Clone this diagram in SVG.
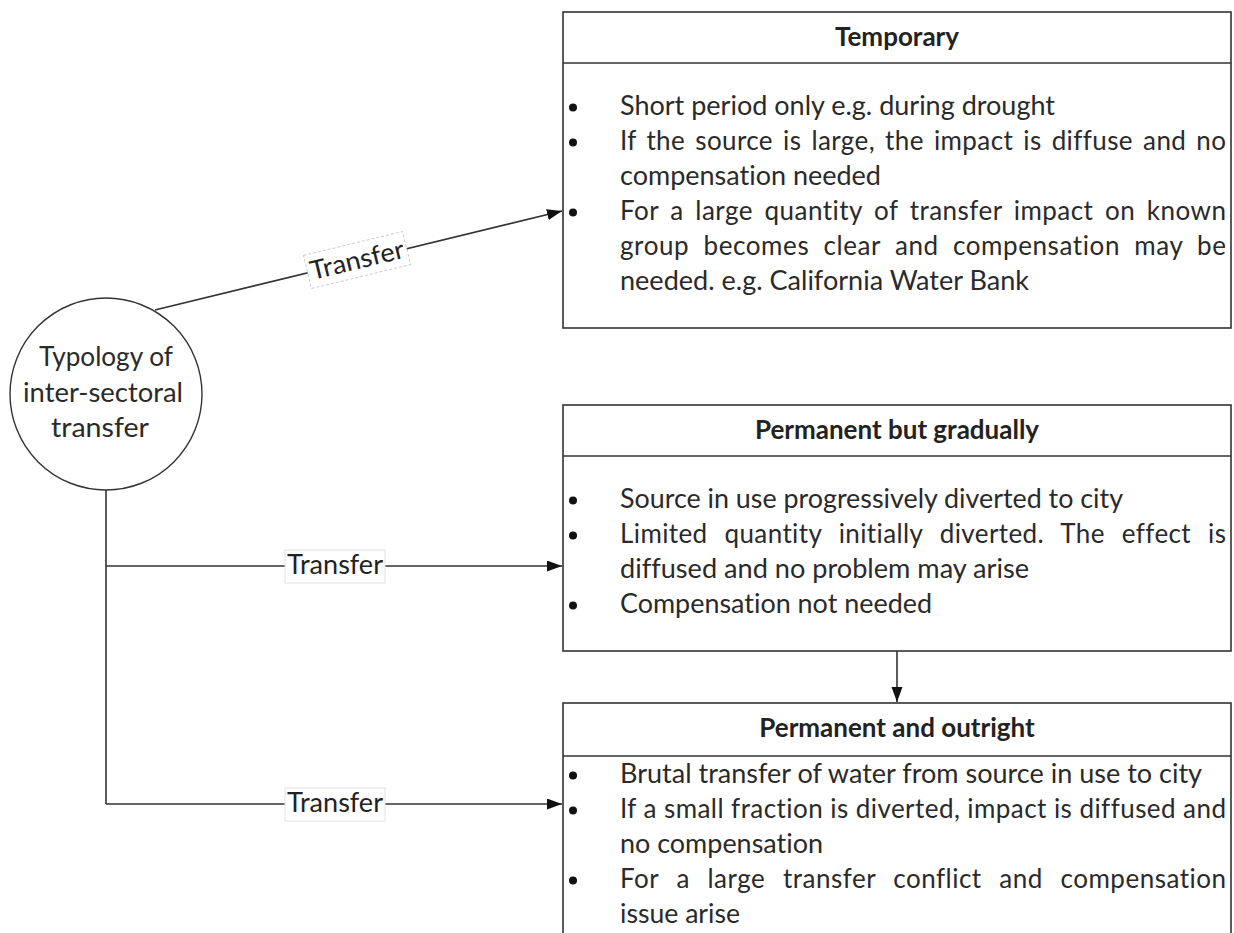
<svg xmlns="http://www.w3.org/2000/svg" width="1234" height="933" viewBox="0 0 1234 933">
<style>
text{font-variant-ligatures:none;font-feature-settings:"liga" 0,"clig" 0}
.box{fill:#fff;stroke:#333;stroke-width:1.6}
.div{stroke:#333;stroke-width:1.6}
.ttl{font-family:Lato,"Open Sans",sans-serif;font-weight:bold;font-size:26px;fill:#222;text-anchor:middle}
.bd{font-family:Lato,"Open Sans",sans-serif;font-size:26px;fill:#2a2a2a}
.ct{font-family:Lato,"Open Sans",sans-serif;font-size:26px;fill:#2a2a2a;text-anchor:middle}
.bul{fill:#111}
.con{fill:none;stroke:#333;stroke-width:1.6}
.lbl{font-family:Lato,"Open Sans",sans-serif;font-size:26px;fill:#222;text-anchor:middle}
.lblbox{fill:#fff;stroke:#e2e2e2;stroke-width:1}
</style>
<defs>
<marker id="ah" markerUnits="userSpaceOnUse" markerWidth="17" markerHeight="12" refX="15" refY="5.5" orient="auto">
<path d="M0,0 L15,5.5 L0,11 z" fill="#111"/>
</marker>
</defs>
<rect width="1234" height="933" fill="#fff"/>

<g id="connectors">
<path class="con" d="M155,310 L562,211" marker-end="url(#ah)"/>
<path class="con" d="M106,490 L106,804"/>
<path class="con" d="M106,566 L562,566" marker-end="url(#ah)"/>
<path class="con" d="M106,804 L562,804" marker-end="url(#ah)"/>
<path class="con" d="M897,651 L897,702" marker-end="url(#ah)"/>
<g transform="translate(357,260) rotate(-13.6)">
<rect x="-51" y="-17" width="102" height="34" fill="#fff" stroke="#ccc" stroke-width="1" stroke-dasharray="3,2"/>
<text class="lbl" x="0" y="9" textLength="96" lengthAdjust="spacingAndGlyphs">Transfer</text>
</g>
<rect class="lblbox" x="285" y="550" width="100" height="33"/>
<text class="lbl" x="335" y="574" textLength="96" lengthAdjust="spacingAndGlyphs">Transfer</text>
<rect class="lblbox" x="285" y="788" width="100" height="33"/>
<text class="lbl" x="335" y="812" textLength="96" lengthAdjust="spacingAndGlyphs">Transfer</text>
</g>

<g id="typology">
<circle cx="106" cy="394" r="96" fill="#fff" stroke="#333" stroke-width="1.4"/>
<text class="ct" x="106" y="366" textLength="134" lengthAdjust="spacingAndGlyphs">Typology of</text>
<text class="ct" x="103" y="402" textLength="160" lengthAdjust="spacingAndGlyphs">inter-sectoral</text>
<text class="ct" x="100" y="437" textLength="98" lengthAdjust="spacingAndGlyphs">transfer</text>
</g>

<g id="temporary">
<rect class="box" x="563" y="12" width="668" height="316"/>
<line class="div" x1="563" y1="63" x2="1231" y2="63"/>
<text class="ttl" x="897" y="46">Temporary</text>
<circle class="bul" cx="573" cy="107.5" r="4"/>
<circle class="bul" cx="573" cy="142.5" r="4"/>
<circle class="bul" cx="573" cy="212.5" r="4"/>
<text class="bd" x="620" y="115" textLength="435" lengthAdjust="spacingAndGlyphs">Short period only e.g. during drought</text>
<text class="bd" x="620" y="150" word-spacing="3" textLength="606" lengthAdjust="spacing">If the source is large, the impact is diffuse and no</text>
<text class="bd" x="620" y="185" textLength="261" lengthAdjust="spacingAndGlyphs">compensation needed</text>
<text class="bd" x="620" y="220" word-spacing="4.5" textLength="606" lengthAdjust="spacing">For a large quantity of transfer impact on known</text>
<text class="bd" x="620" y="255" word-spacing="7" textLength="606" lengthAdjust="spacing">group becomes clear and compensation may be</text>
<text class="bd" x="620" y="290" textLength="409" lengthAdjust="spacingAndGlyphs">needed. e.g. California Water Bank</text>
</g>

<g id="gradual">
<rect class="box" x="563" y="405" width="668" height="246"/>
<line class="div" x1="563" y1="456" x2="1231" y2="456"/>
<text class="ttl" x="897" y="439">Permanent but gradually</text>
<circle class="bul" cx="573" cy="500.5" r="4"/>
<circle class="bul" cx="573" cy="535.5" r="4"/>
<circle class="bul" cx="573" cy="605.5" r="4"/>
<text class="bd" x="620" y="508" textLength="503" lengthAdjust="spacingAndGlyphs">Source in use progressively diverted to city</text>
<text class="bd" x="620" y="543" word-spacing="10" textLength="606" lengthAdjust="spacing">Limited quantity initially diverted. The effect is</text>
<text class="bd" x="620" y="578" textLength="409" lengthAdjust="spacingAndGlyphs">diffused and no problem may arise</text>
<text class="bd" x="620" y="613" textLength="312" lengthAdjust="spacingAndGlyphs">Compensation not needed</text>
</g>

<g id="outright">
<rect class="box" x="563" y="703" width="668" height="250"/>
<line class="div" x1="563" y1="756" x2="1231" y2="756"/>
<text class="ttl" x="897" y="737">Permanent and outright</text>
<circle class="bul" cx="573" cy="775.5" r="4"/>
<circle class="bul" cx="573" cy="810.5" r="4"/>
<circle class="bul" cx="573" cy="880.5" r="4"/>
<text class="bd" x="620" y="783" textLength="582" lengthAdjust="spacingAndGlyphs">Brutal transfer of water from source in use to city</text>
<text class="bd" x="620" y="818" textLength="606" lengthAdjust="spacing">If a small fraction is diverted, impact is diffused and</text>
<text class="bd" x="620" y="853" textLength="203" lengthAdjust="spacingAndGlyphs">no compensation</text>
<text class="bd" x="620" y="888" word-spacing="10.5" textLength="606" lengthAdjust="spacing">For a large transfer conflict and compensation</text>
<text class="bd" x="620" y="923" textLength="120" lengthAdjust="spacingAndGlyphs">issue arise</text>
</g>
</svg>
